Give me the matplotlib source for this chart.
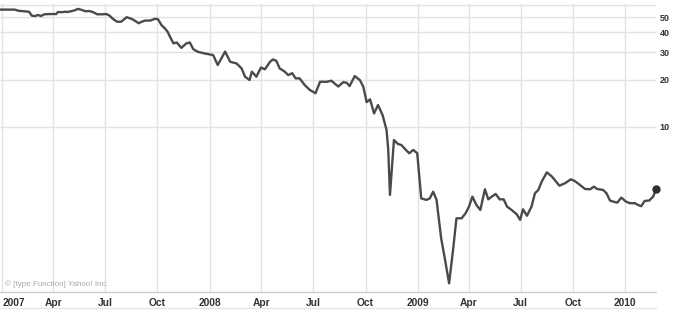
import matplotlib
matplotlib.use("Agg")
import matplotlib.pyplot as plt
import matplotlib.ticker as mticker
from matplotlib.lines import Line2D
import pandas as pd

# weekly closes (vertices of the line)
dates = [
    '2006-12-28', '2007-01-23', '2007-01-29', '2007-02-10', '2007-02-17', '2007-02-22', '2007-02-28',
    '2007-03-05', '2007-03-10', '2007-03-16', '2007-03-26', '2007-04-06', '2007-04-09', '2007-04-16',
    '2007-04-21', '2007-04-26', '2007-05-04', '2007-05-09', '2007-05-14', '2007-05-21', '2007-05-28',
    '2007-06-03', '2007-06-10', '2007-06-17', '2007-06-26', '2007-07-03', '2007-07-08', '2007-07-15',
    '2007-07-22', '2007-07-29', '2007-08-08', '2007-08-17', '2007-08-23', '2007-08-29', '2007-09-02',
    '2007-09-09', '2007-09-18', '2007-09-27', '2007-10-02', '2007-10-08', '2007-10-14', '2007-10-19',
    '2007-10-23', '2007-10-29', '2007-11-04', '2007-11-12', '2007-11-21', '2007-11-27', '2007-12-03',
    '2007-12-11', '2007-12-23',
    '2008-01-02', '2008-01-07', '2008-01-15', '2008-01-28', '2008-02-06', '2008-02-17', '2008-02-26',
    '2008-03-03', '2008-03-11', '2008-03-15', '2008-03-23', '2008-03-31', '2008-04-07', '2008-04-16',
    '2008-04-21', '2008-04-27', '2008-05-03', '2008-05-12', '2008-05-18', '2008-05-25', '2008-05-31',
    '2008-06-07', '2008-06-16', '2008-06-25', '2008-07-05', '2008-07-13', '2008-07-25', '2008-08-02',
    '2008-08-14', '2008-08-23', '2008-08-29', '2008-09-03', '2008-09-12', '2008-09-21', '2008-09-27',
    '2008-10-03', '2008-10-09', '2008-10-16', '2008-10-23', '2008-10-31', '2008-11-07', '2008-11-10',
    '2008-11-13', '2008-11-20', '2008-11-27', '2008-12-03', '2008-12-11', '2008-12-17', '2008-12-24',
    '2008-12-31',
    '2009-01-07', '2009-01-16', '2009-01-22', '2009-01-28', '2009-02-03', '2009-02-11', '2009-02-17',
    '2009-02-25', '2009-03-04', '2009-03-10', '2009-03-19', '2009-03-26', '2009-04-01', '2009-04-07',
    '2009-04-14', '2009-04-21', '2009-04-29', '2009-05-05', '2009-05-11', '2009-05-18', '2009-05-25',
    '2009-06-01', '2009-06-07', '2009-06-15', '2009-06-24', '2009-06-30', '2009-07-05', '2009-07-12',
    '2009-07-20', '2009-07-26', '2009-08-01', '2009-08-07', '2009-08-16', '2009-08-25', '2009-09-07',
    '2009-09-17', '2009-09-27', '2009-10-04', '2009-10-12', '2009-10-22', '2009-10-31', '2009-11-07',
    '2009-11-12', '2009-11-23', '2009-11-29', '2009-12-05', '2009-12-14', '2009-12-18', '2009-12-25',
    '2010-01-02', '2010-01-09', '2010-01-18', '2010-01-23', '2010-01-29', '2010-02-04', '2010-02-12',
    '2010-02-19', '2010-02-24',
]
prices = [
    55.9, 55.9, 55.0, 54.5, 54.2, 51.1, 50.9, 51.7, 50.9, 52.2, 52.4, 52.4, 54.0, 53.8, 54.2, 54.0,
    54.8, 55.4, 56.5, 55.6, 54.5, 54.8, 53.8, 52.2, 52.2, 52.4, 51.4, 48.7, 46.8, 46.8, 50.0, 48.7,
    47.3, 45.8, 46.6, 47.6, 47.6, 48.9, 48.5, 44.6, 42.5, 40.3, 37.6, 34.1, 34.5, 31.9, 34.1, 34.5,
    31.3, 30.1, 29.4,
    28.9, 28.7, 24.8, 30.2, 26.0, 25.4, 23.6, 20.9, 19.9, 22.5, 20.9, 23.9, 23.3, 26.0, 26.9, 26.4,
    23.6, 22.5, 21.4, 22.0, 20.4, 20.4, 18.5, 17.2, 16.4, 19.4, 19.4, 19.7, 18.1, 19.3, 19.1, 18.2,
    21.1, 19.9, 18.1, 14.4, 15.0, 12.2, 13.8, 11.9, 9.57, 7.14, 3.69, 8.26, 7.79, 7.68, 7.14, 6.80,
    7.14, 6.80,
    3.51, 3.43, 3.51, 3.87, 3.43, 1.96, 1.49, 1.01, 1.65, 2.62, 2.62, 2.82, 3.11, 3.60, 3.19, 2.96,
    4.01, 3.46, 3.60, 3.74, 3.46, 3.46, 3.11, 2.96, 2.78, 2.56, 2.99, 2.72, 3.11, 3.78, 3.97, 4.49,
    5.14, 4.83, 4.23, 4.38, 4.64, 4.53, 4.31, 4.03, 4.01, 4.17, 4.03, 3.97, 3.78, 3.40, 3.32, 3.30,
    3.55,
    3.35, 3.27, 3.27, 3.19, 3.13, 3.38, 3.40, 3.60, 4.01,
]

tick_dates = ['2007-01-01', '2007-04-01', '2007-07-01', '2007-10-01', '2008-01-01', '2008-04-01',
              '2008-07-01', '2008-10-01', '2009-01-01', '2009-04-01', '2009-07-01', '2009-10-01',
              '2010-01-01']
tick_labels = ['2007', 'Apr', 'Jul', 'Oct', '2008', 'Apr', 'Jul', 'Oct', '2009', 'Apr', 'Jul', 'Oct',
               '2010']
y_ticks = [10, 20, 30, 40, 50, 60]
y_labels = ['10', '20', '30', '40', '50', '']

LABEL_FONT = ['Liberation Sans', 'DejaVu Sans']

x = pd.to_datetime(dates)

fig = plt.figure(figsize=(6.78, 3.14), dpi=100, facecolor='white')
ax = fig.add_axes([0, 22 / 314, 656 / 678, 288 / 314])

ax.plot(x, prices, color='#4a4a4a', linewidth=1.7, solid_joinstyle='round', zorder=3)
ax.plot(x[-1], prices[-1], 'o', color='#2e2e2e', markersize=5, clip_on=False, zorder=4)

ax.set_yscale('log')
ax.set_ylim(0.889, 60.7)
ax.set_xlim(x[0], x[-1])

ax.yaxis.set_major_locator(mticker.FixedLocator(y_ticks))
ax.yaxis.set_minor_locator(mticker.NullLocator())
ax.yaxis.set_major_formatter(mticker.FixedFormatter(y_labels))
ax.yaxis.tick_right()

ax.set_xticks(pd.to_datetime(tick_dates))
ax.set_xticklabels(tick_labels)
ax.xaxis.set_minor_locator(mticker.NullLocator())

ax.grid(True, color='#e2e2e2', linewidth=1)
ax.set_axisbelow(True)

ax.tick_params(axis='x', length=0, pad=4.5, labelsize=7.4, labelcolor='#333333')
ax.tick_params(axis='y', length=0, pad=2.5, labelsize=6.5, labelcolor='#333333')
for lab in ax.get_xticklabels():
    lab.set_fontweight('bold')
    lab.set_family(LABEL_FONT)
for lab in ax.get_yticklabels():
    lab.set_fontweight('bold')
    lab.set_family(LABEL_FONT)
ax.get_xticklabels()[0].set_horizontalalignment('left')

for side in ['top', 'left', 'right']:
    ax.spines[side].set_visible(False)
ax.spines['bottom'].set_color('#cfcfcf')
ax.spines['bottom'].set_linewidth(1)

ax.text(0.008, 0.028, '\u00a9 [type Function] Yahoo! Inc.', transform=ax.transAxes,
        fontsize=5.8, color='#a8a8a8', family=LABEL_FONT, va='center', ha='left')

# faint band line under the date labels
fig.add_artist(Line2D([0, 656 / 678], [1 - 308 / 314] * 2, color='#e6e6e6', linewidth=1))

fig.savefig('out.png', dpi=100, facecolor='white')
